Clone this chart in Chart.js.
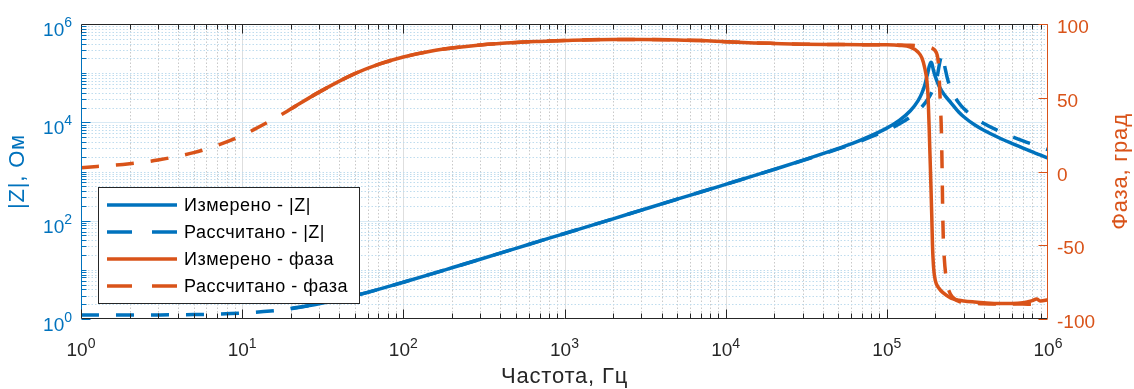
<!DOCTYPE html>
<html>
<head>
<meta charset="utf-8">
<script src="https://cdn.jsdelivr.net/npm/chart.js@4"></script>
<style>
  html, body { margin: 0; padding: 0; background: #ffffff; }
  #chart { display: block; }
</style>
</head>
<body>
<canvas id="chart" width="1134" height="389"></canvas>
<script>
// Frequency points, Hz (calculated model spans the full range, measurement starts at 20 Hz)
const freqCalc = [1, 2, 3, 5, 7, 10, 15, 20, 30, 50, 70, 100, 150, 200, 300, 500, 700,
  1e3, 2e3, 3e3, 5e3, 7e3, 1e4, 1.5e4, 2e4, 3e4, 5e4, 7e4, 1e5, 1.2e5, 1.4e5, 1.6e5, 1.8e5,
  1.95e5, 2.03e5, 2.07e5, 2.1e5, 2.13e5, 2.16e5, 2.18e5, 2.2e5, 2.22e5, 2.24e5, 2.27e5,
  2.32e5, 2.4e5, 2.55e5, 2.8e5, 3e5, 3.5e5, 4e5, 5e5, 6e5, 7e5, 8e5, 1e6];

const freqMeas = [20, 30, 50, 70, 100, 150, 200, 300, 500, 700,
  1e3, 2e3, 3e3, 5e3, 7e3, 1e4, 1.5e4, 2e4, 3e4, 5e4, 7e4, 1e5, 1.2e5, 1.4e5, 1.56e5,
  1.65e5, 1.72e5, 1.77e5, 1.8e5, 1.83e5, 1.86e5, 1.88e5, 1.9e5, 1.92e5, 1.95e5, 2e5,
  2.1e5, 2.25e5, 2.5e5, 2.8e5, 3e5, 3.5e5, 4e5, 5e5, 6e5, 7e5, 8e5, 8.5e5, 9e5, 1e6];

// |Z|, Ohm
const zCalc = [1.20, 1.205, 1.21, 1.23, 1.26, 1.32, 1.45, 1.62, 2.03, 2.99, 4.01, 5.60, 8.29,
  11.0, 16.4, 27.4, 38.3, 54.7, 109, 164, 273, 383, 548, 823, 1102, 1671, 2880, 4260, 6890,
  9340, 12860, 18570, 29760, 49700, 74700, 98650, 129000, 165000, 205000, 228000, 242000,
  245000, 225000, 160000, 110000, 69000, 40580, 24700, 19080, 12500, 9480, 6560, 5090,
  4190, 3580, 2780];

const zMeas = [1.64, 2.04, 2.99, 4.01, 5.60, 8.29, 11.0, 16.4, 27.4, 38.3, 54.7, 109, 164,
  274, 383, 548, 824, 1106, 1683, 2940, 4440, 7620, 11070, 17180, 27370, 39270, 57680,
  85170, 105000, 135000, 158000, 167000, 160000, 140000, 112000, 85000, 56000, 38000,
  25000, 16000, 13000, 8900, 6900, 4800, 3700, 3000, 2500, 2320, 2150, 1870];

// Phase, degrees
const phaseCalc = [2.6, 5.2, 7.8, 12.8, 17.7, 24.5, 34.4, 42.3, 53.8, 66.3, 72.6, 77.6, 81.7,
  83.7, 85.8, 87.5, 88.2, 88.8, 89.5, 89.5, 89.2, 88.8, 88.0, 87.2, 86.8, 86.3, 86.1, 86.0,
  85.9, 85.8, 85.6, 85.2, 84.5, 83.0, 80.5, 77, 70, 55, 40, 28, 5, -25, -45, -58, -70, -79,
  -85, -88, -88.8, -89.3, -89.6, -89.8, -89.9, -89.9, -90, -90];

const phaseMeas = [42.3, 53.8, 66.3, 72.6, 77.6, 81.7, 83.7, 85.8, 87.5, 88.2, 88.8, 89.5,
  89.5, 89.2, 88.8, 88.0, 87.2, 86.8, 86.3, 86.1, 86.0, 85.9, 85.5, 84.3, 81, 77, 70, 62,
  52, 30, 5, -12, -30, -50, -65, -74, -79, -82.5, -85.8, -87.3, -87.8, -88.5, -89, -89.5,
  -89.5, -89, -87.5, -86.5, -87.8, -87];

// Axis ticks
const xTickExponents = [0, 1, 2, 3, 4, 5, 6];
const yTickExponents = [0, 2, 4, 6];
const phaseTicks = [-100, -50, 0, 50, 100];

const seriesLabels = ['Измерено - |Z|', 'Рассчитано - |Z|', 'Измерено - фаза', 'Рассчитано - фаза'];
const axisTitles = { x: 'Частота, Гц', y: '|Z|, Ом', y1: 'Фаза, град' };

const BLUE = '#0072BD';
const ORANGE = '#D95319';
const DARK = '#262626';
const FONT = '"Liberation Sans", Arial, sans-serif';
const DASH = [18, 17];

const pts = (xs, ys) => xs.map((f, i) => ({ x: f, y: ys[i] }));

// Log-scale positions 1..9 x 10^e over six decades, flagged as major where labelled
function logSteps(majorExps) {
  const out = [];
  for (let e = 0; e < 6; e++) {
    for (let m = 1; m <= 9; m++) {
      out.push({ v: m * Math.pow(10, e), major: m === 1 && majorExps.includes(e) });
    }
  }
  return out;
}

// Grid, axes, tick labels, titles and legend drawn in MATLAB style
const framePlugin = {
  id: 'frame',
  beforeDatasetsDraw(chart) {
    const { ctx, chartArea: a, scales } = chart;
    const x = scales.x, y = scales.y;
    ctx.save();
    ctx.lineWidth = 1;
    logSteps(xTickExponents).forEach(s => {
      const px = Math.round(x.getPixelForValue(s.v)) + 0.5;
      if (px > a.left + 1 && px < a.right - 1) {
        ctx.beginPath();
        if (s.major) { ctx.setLineDash([]); ctx.strokeStyle = '#DEDEDE'; }
        else { ctx.setLineDash([1.5, 2]); ctx.strokeStyle = '#C9C9C9'; }
        ctx.moveTo(px, a.top); ctx.lineTo(px, a.bottom); ctx.stroke();
      }
    });
    logSteps(yTickExponents).forEach(s => {
      const py = Math.round(y.getPixelForValue(s.v)) + 0.5;
      if (py > a.top + 1 && py < a.bottom - 1) {
        ctx.beginPath();
        if (s.major) { ctx.setLineDash([]); ctx.strokeStyle = '#D9EAF5'; }
        else { ctx.setLineDash([1.5, 2]); ctx.strokeStyle = '#BFDCEE'; }
        ctx.moveTo(a.left, py); ctx.lineTo(a.right, py); ctx.stroke();
      }
    });
    ctx.restore();
  },
  afterDatasetsDraw(chart) {
    const { ctx, chartArea: a, scales } = chart;
    const x = scales.x, y = scales.y, y1 = scales.y1;
    ctx.save();
    ctx.setLineDash([]);
    ctx.lineWidth = 1;

    const L = Math.round(a.left) + 0.5, R = Math.round(a.right) - 0.5;
    const T = Math.round(a.top) + 0.5, B = Math.round(a.bottom) - 0.5;

    // frame lines
    ctx.strokeStyle = DARK;
    ctx.beginPath(); ctx.moveTo(L, T); ctx.lineTo(R, T); ctx.moveTo(L, B); ctx.lineTo(R, B); ctx.stroke();
    ctx.strokeStyle = BLUE;
    ctx.beginPath(); ctx.moveTo(L, T); ctx.lineTo(L, B); ctx.stroke();
    ctx.strokeStyle = ORANGE;
    ctx.beginPath(); ctx.moveTo(R, T); ctx.lineTo(R, B); ctx.stroke();

    // x ticks (top and bottom, inward)
    ctx.strokeStyle = DARK;
    ctx.beginPath();
    logSteps(xTickExponents).forEach(s => {
      const px = Math.round(x.getPixelForValue(s.v)) + 0.5;
      const len = s.major ? 9 : 5;
      ctx.moveTo(px, B); ctx.lineTo(px, B - len);
      ctx.moveTo(px, T); ctx.lineTo(px, T + len);
    });
    ctx.stroke();

    // left y ticks
    ctx.strokeStyle = BLUE;
    ctx.beginPath();
    logSteps(yTickExponents).forEach(s => {
      const py = Math.round(y.getPixelForValue(s.v)) + 0.5;
      const len = s.major ? 9 : 5;
      ctx.moveTo(L, py); ctx.lineTo(L + len, py);
    });
    ctx.stroke();

    // right y ticks
    ctx.strokeStyle = ORANGE;
    ctx.beginPath();
    phaseTicks.forEach(v => {
      const py = Math.round(y1.getPixelForValue(v)) + 0.5;
      ctx.moveTo(R, py); ctx.lineTo(R - 9, py);
    });
    ctx.stroke();

    const baseFont = '19px ' + FONT;
    const expFont = '14px ' + FONT;

    // x tick labels 10^n
    ctx.fillStyle = DARK;
    ctx.textBaseline = 'alphabetic';
    xTickExponents.forEach(n => {
      const px = x.getPixelForValue(Math.pow(10, n));
      ctx.font = baseFont; const w1 = ctx.measureText('10').width;
      ctx.font = expFont; const w2 = ctx.measureText(String(n)).width;
      const x0 = px - (w1 + w2) / 2;
      ctx.font = baseFont; ctx.textAlign = 'left';
      ctx.fillText('10', x0, a.bottom + 37);
      ctx.font = expFont;
      ctx.fillText(String(n), x0 + w1, a.bottom + 29);
    });

    // left y tick labels
    ctx.fillStyle = BLUE;
    yTickExponents.forEach(n => {
      const py = y.getPixelForValue(Math.pow(10, n));
      ctx.font = expFont; const w2 = ctx.measureText(String(n)).width;
      const right = a.left - 9;
      ctx.textAlign = 'right';
      ctx.fillText(String(n), right, py + 3);
      ctx.font = baseFont;
      ctx.fillText('10', right - w2, py + 12);
    });

    // right y tick labels
    ctx.fillStyle = ORANGE;
    ctx.font = baseFont;
    ctx.textAlign = 'left';
    phaseTicks.forEach(v => {
      const py = y1.getPixelForValue(v);
      ctx.fillText(String(v), a.right + 9, py + 9);
    });

    // axis titles
    ctx.font = '22px ' + FONT;
    ctx.letterSpacing = '0.8px';
    ctx.fillStyle = DARK;
    ctx.textAlign = 'center';
    ctx.fillText(axisTitles.x, (a.left + a.right) / 2, a.bottom + 64);

    const midY = (a.top + a.bottom) / 2;
    ctx.save();
    ctx.translate(18, midY); ctx.rotate(-Math.PI / 2);
    ctx.fillStyle = BLUE; ctx.textBaseline = 'middle';
    ctx.fillText(axisTitles.y, 0, 0);
    ctx.restore();

    ctx.save();
    ctx.translate(1121, midY); ctx.rotate(-Math.PI / 2);
    ctx.fillStyle = ORANGE; ctx.textBaseline = 'middle';
    ctx.fillText(axisTitles.y1, 0, 0);
    ctx.restore();

    // legend
    const bx = 98.5, by = 187.5, bw = 261, bh = 116;
    ctx.fillStyle = '#ffffff';
    ctx.fillRect(bx, by, bw, bh);
    ctx.strokeStyle = DARK;
    ctx.lineWidth = 1;
    ctx.strokeRect(bx, by, bw, bh);
    const rowY = [205, 232, 259, 286];
    chart.data.datasets.forEach((ds, i) => {
      const ly = rowY[i];
      ctx.save();
      ctx.strokeStyle = ds.borderColor;
      ctx.lineWidth = 3.5;
      ctx.lineCap = 'butt';
      ctx.setLineDash(ds.borderDash && ds.borderDash.length ? [25, 20] : []);
      ctx.beginPath(); ctx.moveTo(107, ly); ctx.lineTo(177, ly); ctx.stroke();
      ctx.restore();
      ctx.fillStyle = '#000000';
      ctx.font = '18px ' + FONT;
      ctx.letterSpacing = '0.5px';
      ctx.textAlign = 'left';
      ctx.textBaseline = 'middle';
      ctx.fillText(ds.label, 184, ly + 1);
    });
    ctx.restore();
  }
};

new Chart(document.getElementById('chart'), {
  type: 'line',
  data: {
    datasets: [
      { label: seriesLabels[0], data: pts(freqMeas, zMeas), yAxisID: 'y',
        borderColor: BLUE, borderWidth: 3.5, order: 2 },
      { label: seriesLabels[1], data: pts(freqCalc, zCalc), yAxisID: 'y',
        borderColor: BLUE, borderWidth: 3.5, borderDash: DASH, order: 3 },
      { label: seriesLabels[2], data: pts(freqMeas, phaseMeas), yAxisID: 'y1',
        borderColor: ORANGE, borderWidth: 3.5, order: 0 },
      { label: seriesLabels[3], data: pts(freqCalc, phaseCalc), yAxisID: 'y1',
        borderColor: ORANGE, borderWidth: 3.5, borderDash: DASH, order: 1 }
    ]
  },
  options: {
    responsive: false,
    animation: false,
    devicePixelRatio: 1,
    layout: { padding: { left: 81, top: 24, right: 86, bottom: 70 } },
    parsing: false,
    elements: {
      point: { radius: 0, hoverRadius: 0 },
      line: { fill: false, cubicInterpolationMode: 'monotone', borderCapStyle: 'butt', borderJoinStyle: 'round' }
    },
    plugins: { legend: { display: false }, tooltip: { enabled: false } },
    scales: {
      x: { type: 'logarithmic', min: 1, max: 1e6, display: false },
      y: { type: 'logarithmic', position: 'left', min: 1, max: 1e6, display: false },
      y1: { type: 'linear', position: 'right', min: -100, max: 100, display: false }
    }
  },
  plugins: [framePlugin]
});
</script>
</body>
</html>
